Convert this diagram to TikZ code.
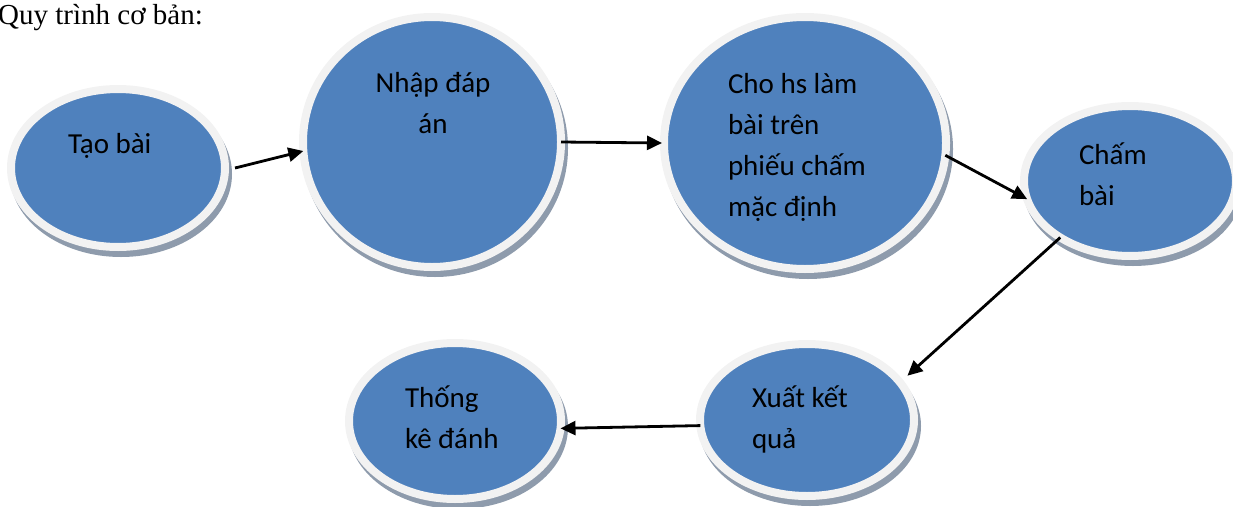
\documentclass[tikz,border=0pt]{standalone}
\usepackage{fontspec}
\setmainfont{Carlito}
\newfontfamily\titlefont{Liberation Serif}
\usetikzlibrary{arrows.meta,shapes.geometric}
\definecolor{bubblue}{HTML}{4F81BD}
\definecolor{rimc}{HTML}{F2F2F2}
\definecolor{shadc}{HTML}{8E9BAC}
\tikzset{
  bub/.style={ellipse, inner sep=0pt, outer sep=0pt, fill=bubblue, draw=rimc, line width=8pt,
    preaction={fill=shadc, draw=shadc, line width=8pt, transform canvas={xshift=3pt,yshift=-6pt}}},
  lbl/.style={inner sep=0pt, outer sep=0pt, font=\fontsize{29}{41}\selectfont, text=black},
  conn/.style={line width=2.8pt, draw=black, -{Triangle[length=15pt,width=14pt]}}
}
\begin{document}
\begin{tikzpicture}[x=1pt,y=-1pt]
\useasboundingbox (0,0) rectangle (1233,506);
% title
\node[inner sep=0pt, anchor=base west, font=\titlefont\fontsize{29}{34}\selectfont] (title) at (-2,24) {Quy trình cơ bản:};
% bubbles
\node[bub, minimum width=214pt, minimum height=158pt] (n1) at (118,168) {};
\node[bub, minimum width=258pt, minimum height=250pt] (n2) at (432,142) {};
\node[bub, minimum width=282pt, minimum height=252pt] (n3) at (805,143) {};
\node[bub, minimum width=212pt, minimum height=150pt] (n4) at (1130,181) {};
\node[bub, minimum width=214pt, minimum height=152pt] (n5) at (807,420) {};
\node[bub, minimum width=212pt, minimum height=156pt] (n6) at (455,421) {};
% labels
\node[lbl, anchor=north west, align=left] (t1) at (68,124.3) {\strut Tạo bài};
\node[lbl, anchor=north, align=center] (t2) at (433,63.3) {\strut Nhập đáp\\án};
\node[lbl, anchor=north west, align=left] (t3) at (728,64.3) {\strut Cho hs làm\\bài trên\\phiếu chấm\\mặc định};
\node[lbl, anchor=north west, align=left] (t4) at (1079,135.3) {\strut Chấm\\bài};
\node[lbl, anchor=north west, align=left] (t5) at (752,378.3) {\strut Xuất kết\\quả};
\node[lbl, anchor=north west, align=left] (t6) at (405,378.3) {\strut Thống\\kê đánh};
% connectors
\draw[conn] ([xshift=10pt]n1.east) -- (n2.184);
\draw[conn] (n2.east) -- ([xshift=-2pt]n3.west);
\draw[conn] (n3.-5) -- (n4.190);
\draw[conn, shorten >=10pt] (n4.219) -- (n5.22);
\draw[conn] (n5.183) -- (n6.-4);
\end{tikzpicture}
\end{document}
